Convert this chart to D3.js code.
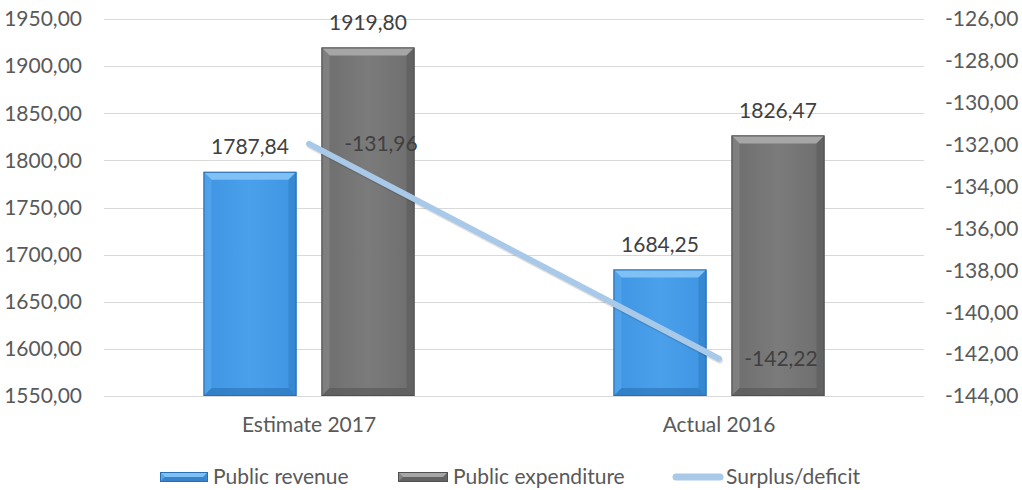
<!DOCTYPE html>
<html><head><meta charset="utf-8">
<script src="https://cdn.jsdelivr.net/npm/d3@7"></script>
<style>body{margin:0;background:#fff;}svg{display:block;font-family:Lato,"Open Sans",sans-serif;}</style>
</head><body>
<script>
const categories = ["Estimate 2017", "Actual 2016"];
const revenue = [1787.84, 1684.25];
const expenditure = [1919.80, 1826.47];
const surplus = [-131.96, -142.22];
const leftTicks = [1550,1600,1650,1700,1750,1800,1850,1900,1950];
const rightTicks = [-144,-142,-140,-138,-136,-134,-132,-130,-128,-126];
const seriesNames = ["Public revenue", "Public expenditure", "Surplus/deficit"];

const W=1022,H=490, FS=21;
const m={l:104,r:98,t:19,b:94};
const svg=d3.select("body").append("svg").attr("width",W).attr("height",H);
const fmt=v=>d3.format(".2f")(v).replace(".",",").replace("−","-");
const x=d3.scaleBand().domain(categories).range([m.l,W-m.r]);
const yL=d3.scaleLinear().domain([1550,1950]).range([H-m.b,m.t]);
const yR=d3.scaleLinear().domain([-144,-126]).range([H-m.b,m.t]);

svg.append("g").selectAll("line").data(leftTicks).join("line")
 .attr("x1",m.l).attr("x2",W-m.r).attr("y1",d=>Math.round(yL(d))+0.5).attr("y2",d=>Math.round(yL(d))+0.5)
 .attr("stroke","#d9d9d9").attr("stroke-width",1);
svg.append("g").selectAll("text").data(leftTicks).join("text")
 .attr("x",82).attr("y",d=>yL(d)).attr("dy","0.35em").attr("text-anchor","end")
 .attr("font-size",FS).attr("fill","#595959").text(fmt);
svg.append("g").selectAll("text").data(rightTicks).join("text")
 .attr("x",945).attr("y",d=>yR(d)).attr("dy","0.35em").attr("text-anchor","start")
 .attr("font-size",FS).attr("fill","#595959").text(fmt);
svg.append("g").selectAll("text").data(categories).join("text")
 .attr("x",d=>x(d)+x.bandwidth()/2).attr("y",425).attr("dy","0.35em").attr("text-anchor","middle")
 .attr("font-size",FS).attr("fill","#595959").text(d=>d);

const barW=93, gap=25;
const defs=svg.append("defs");
function grad(id,c1,c2){const g=defs.append("linearGradient").attr("id",id).attr("x1",0).attr("x2",1).attr("y1",0).attr("y2",0);
 g.append("stop").attr("offset",0).attr("stop-color",c1);g.append("stop").attr("offset",0.5).attr("stop-color",c2);g.append("stop").attr("offset",1).attr("stop-color",c1);}
grad("gb","#3f95e2","#4aa0ea");
grad("gg","#6e6e6e","#7b7b7b");
const pal={rev:{fill:"url(#gb)",top:"#7fc0f5",left:"#5aaaef",right:"#2f7fc7",bot:"#2a72b5",edge:"#2a6fb0"},
 exp:{fill:"url(#gg)",top:"#a6a6a6",left:"#8a8a8a",right:"#5a5a5a",bot:"#555",edge:"#505050"}};
function bevelBar(g,x0,y0,w,h,p){
 const b=Math.min(8,h/2);
 g.append("rect").attr("x",x0).attr("y",y0).attr("width",w).attr("height",h).attr("fill",p.fill);
 g.append("path").attr("d",`M${x0},${y0}L${x0+w},${y0}L${x0+w-b},${y0+b}L${x0+b},${y0+b}Z`).attr("fill",p.top);
 g.append("path").attr("d",`M${x0},${y0}L${x0+b},${y0+b}L${x0+b},${y0+h-b}L${x0},${y0+h}Z`).attr("fill",p.left).attr("opacity",0.6);
 g.append("path").attr("d",`M${x0+w},${y0}L${x0+w-b},${y0+b}L${x0+w-b},${y0+h-b}L${x0+w},${y0+h}Z`).attr("fill",p.right).attr("opacity",0.6);
 g.append("path").attr("d",`M${x0},${y0+h}L${x0+b},${y0+h-b}L${x0+w-b},${y0+h-b}L${x0+w},${y0+h}Z`).attr("fill",p.bot).attr("opacity",0.6);
 g.append("rect").attr("x",x0+0.5).attr("y",y0+0.5).attr("width",w-1).attr("height",h-1).attr("fill","none").attr("stroke",p.edge).attr("stroke-width",1);
}
const bars=svg.append("g");
categories.forEach((c,i)=>{
 const cx=x(c)+x.bandwidth()/2;
 const xr=cx-gap/2-barW, xe=cx+gap/2;
 bevelBar(bars,xr,yL(revenue[i]),barW,yL(1550)-yL(revenue[i]),pal.rev);
 bevelBar(bars,xe,yL(expenditure[i]),barW,yL(1550)-yL(expenditure[i]),pal.exp);
 svg.append("text").attr("x",xr+barW/2).attr("y",yL(revenue[i])-25).attr("dy","0.35em").attr("text-anchor","middle")
  .attr("font-size",FS).attr("fill","#404040").text(fmt(revenue[i]));
 svg.append("text").attr("x",xe+barW/2).attr("y",yL(expenditure[i])-25).attr("dy","0.35em").attr("text-anchor","middle")
  .attr("font-size",FS).attr("fill","#404040").text(fmt(expenditure[i]));
});
const pts=categories.map((c,i)=>[x(c)+x.bandwidth()/2,yR(surplus[i])]);
svg.append("path").attr("d",d3.line()(pts.map(p=>[p[0]+1,p[1]+2]))).attr("stroke","#000").attr("stroke-opacity",0.12).attr("stroke-width",6).attr("fill","none").attr("stroke-linecap","round");
svg.append("path").attr("d",d3.line()(pts)).attr("stroke","#a9c9e9").attr("stroke-width",6).attr("fill","none").attr("stroke-linecap","round");
pts.forEach((p,i)=>{
 svg.append("text").attr("x",p[0]+(i===0?72:62)).attr("y",p[1]).attr("dy","0.35em").attr("text-anchor","middle")
  .attr("font-size",FS).attr("fill","#404040").text(fmt(surplus[i]));
});
const lg=svg.append("g"), ly=477;
bevelBar(lg,160,ly-5,48,10,{...pal.rev,fill:"#4a9de8"});
lg.append("text").attr("x",213).attr("y",ly).attr("dy","0.35em").attr("font-size",FS).attr("fill","#595959").text(seriesNames[0]);
bevelBar(lg,398,ly-5,50,10,{...pal.exp,fill:"#777"});
lg.append("text").attr("x",453).attr("y",ly).attr("dy","0.35em").attr("font-size",FS).attr("fill","#595959").text(seriesNames[1]);
lg.append("line").attr("x1",676).attr("x2",720).attr("y1",ly).attr("y2",ly).attr("stroke","#a9c9e9").attr("stroke-width",7).attr("stroke-linecap","round");
lg.append("text").attr("x",726).attr("y",ly).attr("dy","0.35em").attr("font-size",FS).attr("fill","#595959").text(seriesNames[2]);
</script>
</body></html>
